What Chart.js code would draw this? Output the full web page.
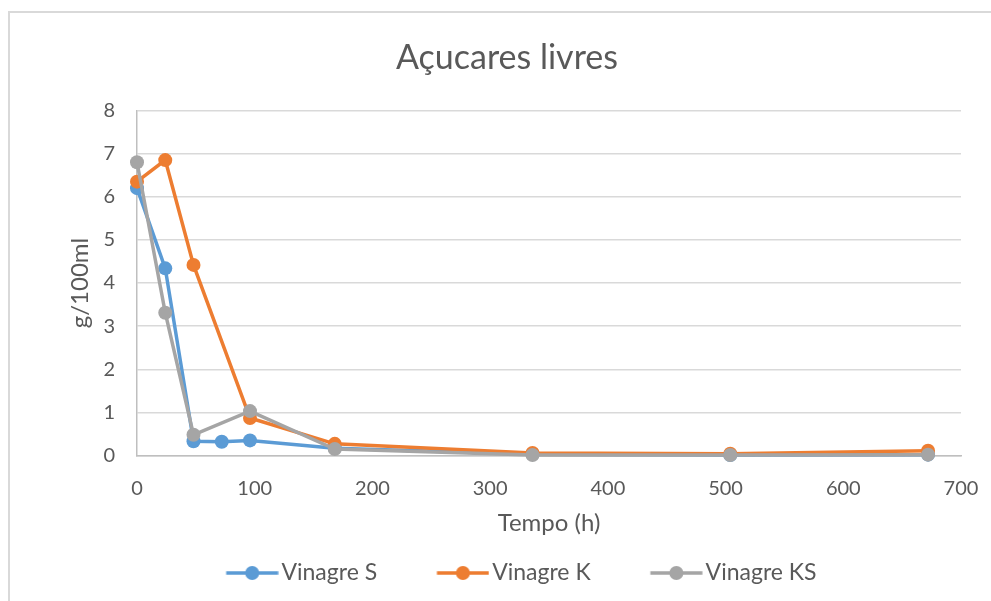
<!DOCTYPE html>
<html><head><meta charset="utf-8">
<script src="https://cdn.jsdelivr.net/npm/chart.js@4"></script>
<style>
html,body{margin:0;padding:0;background:#fff;overflow:hidden;width:991px;height:601px;}
#frame{position:absolute;left:8px;top:11px;width:2000px;height:2000px;border-left:2px solid #d9d9d9;border-top:2px solid #d9d9d9;}
#c{position:absolute;left:9px;top:12px;}
</style></head><body>
<div id="frame"></div>
<canvas id="c" width="996" height="589"></canvas>
<script>
// ---- data ----
const title = "Açucares livres";
const xTitle = "Tempo (h)";
const yTitle = "g/100ml";
const seriesNames = ["Vinagre S", "Vinagre K", "Vinagre KS"];
const hoursS  = [0, 24, 48, 72, 96, 168, 336, 504, 672];
const valuesS = [6.2, 4.34, 0.33, 0.32, 0.35, 0.17, 0.03, 0.01, 0.02];
const hoursK  = [0, 24, 48, 96, 168, 336, 504, 672];
const valuesK = [6.35, 6.85, 4.42, 0.87, 0.27, 0.06, 0.04, 0.11];
const hoursKS  = [0, 24, 48, 96, 168, 336, 504, 672];
const valuesKS = [6.8, 3.31, 0.48, 1.03, 0.15, 0.01, 0.01, 0.02];
const xTicks = [0, 100, 200, 300, 400, 500, 600, 700];
const yTicks = [0, 1, 2, 3, 4, 5, 6, 7, 8];
const colors = ["#5B9BD5", "#ED7D31", "#A5A5A5"];

// ---- styling ----
const FONT = "Lato";
const TXT = "#595959";
const LF = 23;          // legend font size
const LPAD = 31;        // legend padding
const G = 29;           // leading blank in legend box
const EXT = LF/2 - 3;   // symbol overhang to the right
const BOXW = G + 52 - EXT;

function legendIcon(color){
  const cv = document.createElement('canvas');
  const w = Math.round(BOXW + 2*EXT), h = 16;
  cv.width = w; cv.height = h;
  const c = cv.getContext('2d');
  const o = G + EXT;
  c.strokeStyle = color; c.lineWidth = 3.5; c.lineCap = 'butt';
  c.beginPath(); c.moveTo(o, h/2); c.lineTo(o+52, h/2); c.stroke();
  c.fillStyle = color;
  c.beginPath(); c.arc(o+26, h/2, 7, 0, Math.PI*2); c.fill();
  return cv;
}

function pts(xs, ys){ return xs.map((x,i)=>({x:x, y:ys[i]})); }
const allX = [hoursS, hoursK, hoursKS];
const allY = [valuesS, valuesK, valuesKS];

const datasets = seriesNames.map((n,i)=>({
  label: n,
  data: pts(allX[i], allY[i]),
  order: 2 - i,
  showLine: true,
  borderColor: colors[i],
  backgroundColor: colors[i],
  borderWidth: 3.5,
  pointRadius: 7,
  pointBorderWidth: 0,
  pointBackgroundColor: colors[i],
  pointBorderColor: colors[i],
  pointHoverRadius: 7,
  tension: 0,
  clip: false
}));

new Chart(document.getElementById('c'), {
  type: 'scatter',
  data: { datasets },
  options: {
    responsive: false,
    animation: false,
    events: [],
    layout: { padding: { left: 0, right: 0, top: 0, bottom: 6.5 } },
    plugins: {
      tooltip: { enabled: false },
      title: {
        display: true, text: title, color: TXT,
        font: { family: FONT, size: 34, weight: 'normal', lineHeight: 1.2 },
        padding: { top: 25.6, bottom: 32.1 }
      },
      legend: {
        position: 'bottom',
        labels: {
          usePointStyle: true,
          pointStyleWidth: BOXW,
          boxHeight: LF,
          padding: LPAD,
          color: TXT,
          font: { family: FONT, size: LF },
          generateLabels: (chart) => chart.data.datasets.map((d,i)=>({
            text: d.label,
            fillStyle: colors[i],
            strokeStyle: colors[i],
            lineWidth: 0,
            hidden: false,
            datasetIndex: i,
            fontColor: TXT,
            pointStyle: legendIcon(colors[i])
          }))
        }
      }
    },
    scales: {
      x: {
        type: 'linear', position: 'bottom',
        min: 0, max: 700,
        afterBuildTicks: (s) => { s.ticks = xTicks.map(v=>({value:v})); },
        afterFit: (s) => { s.height = 75; },
        grid: { display: false, drawTicks: false },
        border: { display: true, color: '#bfbfbf', width: 1.5 },
        ticks: { color: TXT, padding: 21.5, font: { family: FONT, size: 20 } },
        title: { display: true, text: xTitle, color: TXT,
          font: { family: FONT, size: 24, lineHeight: 1.2 },
          padding: { top: 0, bottom: -7 } }
      },
      y: {
        type: 'linear', position: 'left',
        min: 0, max: 8,
        afterBuildTicks: (s) => { s.ticks = yTicks.map(v=>({value:v})); },
        afterFit: (s) => { s.width = 128; },
        grid: { color: '#d9d9d9', lineWidth: 1.5, drawTicks: false },
        border: { display: true, color: '#bfbfbf', width: 1.5 },
        ticks: { color: TXT, padding: 22, font: { family: FONT, size: 20 } },
        title: { display: true, text: yTitle, color: TXT,
          font: { family: FONT, size: 24, lineHeight: 1.2 },
          padding: { top: 56.6, bottom: 0 } }
      },
      yRight: {
        type: 'linear', position: 'right', display: true,
        min: 0, max: 8,
        afterFit: (s) => { s.width = 44; },
        grid: { display: false, drawTicks: false },
        border: { display: false },
        ticks: { display: false }
      }
    }
  }
});
</script>
</body></html>
